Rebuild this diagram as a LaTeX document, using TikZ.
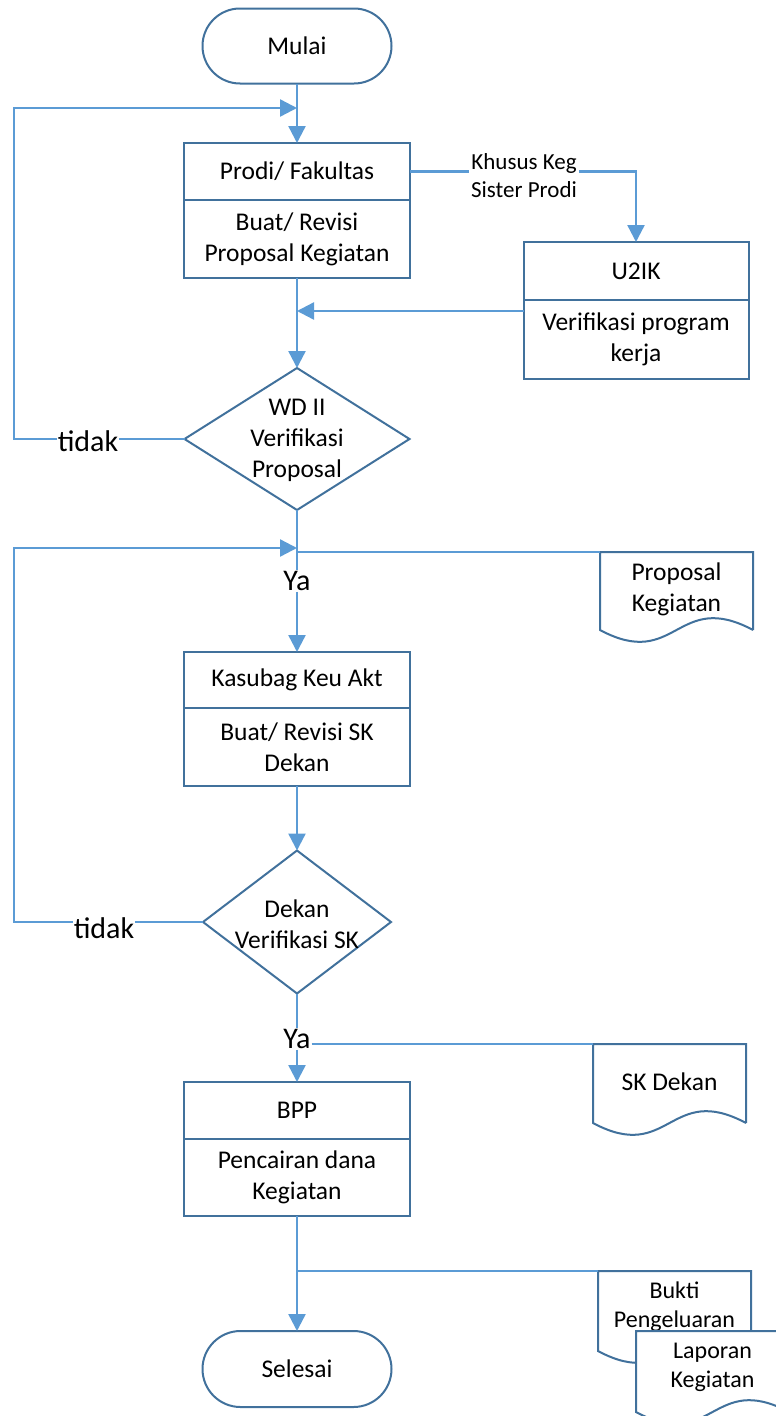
\documentclass[tikz,border=0pt]{standalone}
\usepackage{fontspec}
\setmainfont{Carlito}
\usetikzlibrary{arrows.meta,shapes.geometric,shapes.misc,calc}
\definecolor{lineblue}{HTML}{5B9BD5}
\definecolor{boxblue}{HTML}{41719C}
\newcommand\fsmain{\fontsize{25.5}{31}\selectfont}
\newcommand\fsbig{\fontsize{30}{36}\selectfont}
\newcommand\fslbl{\fontsize{23}{28}\selectfont}
\newcommand\fsdoc{\fontsize{24}{29}\selectfont}
\newcommand\docoutline[1]{%
  \filldraw[docline] (#1.south east) -- (#1.north east) -- (#1.north west) -- (#1.south west)
    .. controls ($(#1.south)+(0,41)$) and ($(#1.south)+(0,-41)$) .. (#1.south east);}
\begin{document}
\begin{tikzpicture}[x=1pt,y=-1pt,
  conn/.style={draw=lineblue, line width=2.4pt},
  arr/.style={conn, -{Triangle[length=17pt,width=17pt]}},
  box/.style={draw=boxblue, line width=2pt, fill=white, minimum width=226pt, inner sep=0pt, outer sep=0pt, align=center, font=\fsmain},
  term/.style={draw=boxblue, line width=2pt, rounded rectangle, minimum width=189pt, minimum height=75pt, inner sep=0pt, outer sep=0pt, font=\fsmain},
  dia/.style={draw=boxblue, line width=2pt, diamond, inner sep=0pt, outer sep=0pt},
  diatext/.style={align=center, inner sep=0pt, font=\fsmain},
  lbl/.style={fill=white, inner sep=1pt, font=\fsbig},
  doccell/.style={minimum width=153pt, minimum height=79pt, inner sep=0pt, outer sep=0pt, anchor=north west},
  doctext/.style={align=center, inner sep=0pt},
  docline/.style={draw=boxblue, line width=2pt, fill=white}]
\useasboundingbox (0,0) rectangle (776,1416);
\clip (0,0) rectangle (776,1416);

% start
\node[term] (start) at (297,46) {Mulai};

% Prodi
\node[box, minimum height=57pt, anchor=north] (p1) at (297,143) {Prodi/ Fakultas};
\node[box, minimum height=78pt, anchor=north] (p2) at (p1.south) {Buat/ Revisi\\Proposal Kegiatan};

% U2IK
\node[box, minimum width=225pt, minimum height=58pt, anchor=north] (u1) at (636,242) {U2IK};
\node[box, minimum width=225pt, minimum height=79pt, anchor=north] (u2) at (u1.south) {Verifikasi program\\kerja};

% decision 1
\node[dia, minimum width=225pt, minimum height=142pt] (d1) at (297,439) {};
\node[diatext] (d1t) at (297,440) {WD II\\Verifikasi\\Proposal};

% Kasubag
\node[box, minimum height=56pt, anchor=north] (k1) at (297,652) {Kasubag Keu Akt};
\node[box, minimum height=78pt, anchor=north] (k2) at (k1.south) {Buat/ Revisi SK\\Dekan};

% decision 2
\node[dia, minimum width=188pt, minimum height=143pt] (d2) at (297,922) {};
\node[diatext] (d2t) at (297,924) {Dekan\\Verifikasi SK};

% BPP
\node[box, minimum height=57pt, anchor=north] (b1) at (297,1082) {BPP};
\node[box, minimum height=77pt, anchor=north] (b2) at (b1.south) {Pencairan dana\\Kegiatan};

% end
\node[term, minimum height=76pt] (end) at (297,1369) {Selesai};

% documents
\node[doccell, minimum height=78pt] (doc1) at (600,552) {};
\docoutline{doc1}
\node[doctext, font=\fsmain] (doc1t) at ($(doc1.center)+(0,-2)$) {Proposal\\Kegiatan};

\node[doccell] (doc2) at (593,1044) {};
\docoutline{doc2}
\node[doctext, font=\fsmain] (doc2t) at ($(doc2.center)+(0,-2)$) {SK Dekan};

\node[doccell, minimum height=80pt] (doc3) at (598,1271) {};
\docoutline{doc3}
\node[doctext, font=\fsdoc] (doc3t) at ($(doc3.center)+(0,-4)$) {Bukti\\Pengeluaran};

\node[doccell, minimum height=81pt] (doc4) at (636,1331) {};
\docoutline{doc4}
\node[doctext, font=\fsdoc] (doc4t) at ($(doc4.center)+(0,-4)$) {Laporan\\Kegiatan};

% labels
\node[lbl] (t1) at (88,441) {tidak};
\node[lbl] (t2) at (104,928) {tidak};
\node[lbl] (y1) at (297,581) {Ya};
\node[lbl] (y2) at (297,1039) {Ya};
\node[inner sep=2pt, align=center, font=\fslbl] (kl) at (524,176) {Khusus Keg\\Sister Prodi};

% coordinates
\coordinate (l1) at (14,108);
\coordinate (in1) at (297,108);
\coordinate (l2) at (14,548);
\coordinate (in2) at (297,548);
\coordinate (j1) at (297,552);
\coordinate (j2) at (297,1271);
\coordinate (uin) at ($(u2.north west)+(0,11)$);

% connectors
\draw[arr] (start.south) -- (p1.north);
\draw[conn] (p1.east) -- (p1.east -| kl.west);
\draw[arr] (p1.east -| kl.east) -| (u1.north);
\draw[arr] (uin) -- (uin -| p2.south);
\draw[arr] (p2.south) -- (d1.north);
\draw[conn] (d1.west) -- (d1.west -| t1.east);
\draw[arr] (d1.west -| t1.west) -| (l1) -- (in1);
\draw[conn] (d1.south) -- (y1.north);
\draw[arr] (y1.south) -- (k1.north);
\draw[conn] (j1) -- (doc1.north west);
\draw[arr] (k2.south) -- (d2.north);
\draw[conn] (d2.west) -- (d2.west -| t2.east);
\draw[arr] (d2.west -| t2.west) -| (l2) -- (in2);
\draw[conn] (d2.south) -- (y2.north);
\draw[arr] (y2.south) -- (b1.north);
\draw[conn] (y2.east |- doc2.north) -- (doc2.north west);
\draw[arr] (b2.south) -- (end.north);
\draw[conn] (j2) -- (doc3.north west);
\end{tikzpicture}
\end{document}
